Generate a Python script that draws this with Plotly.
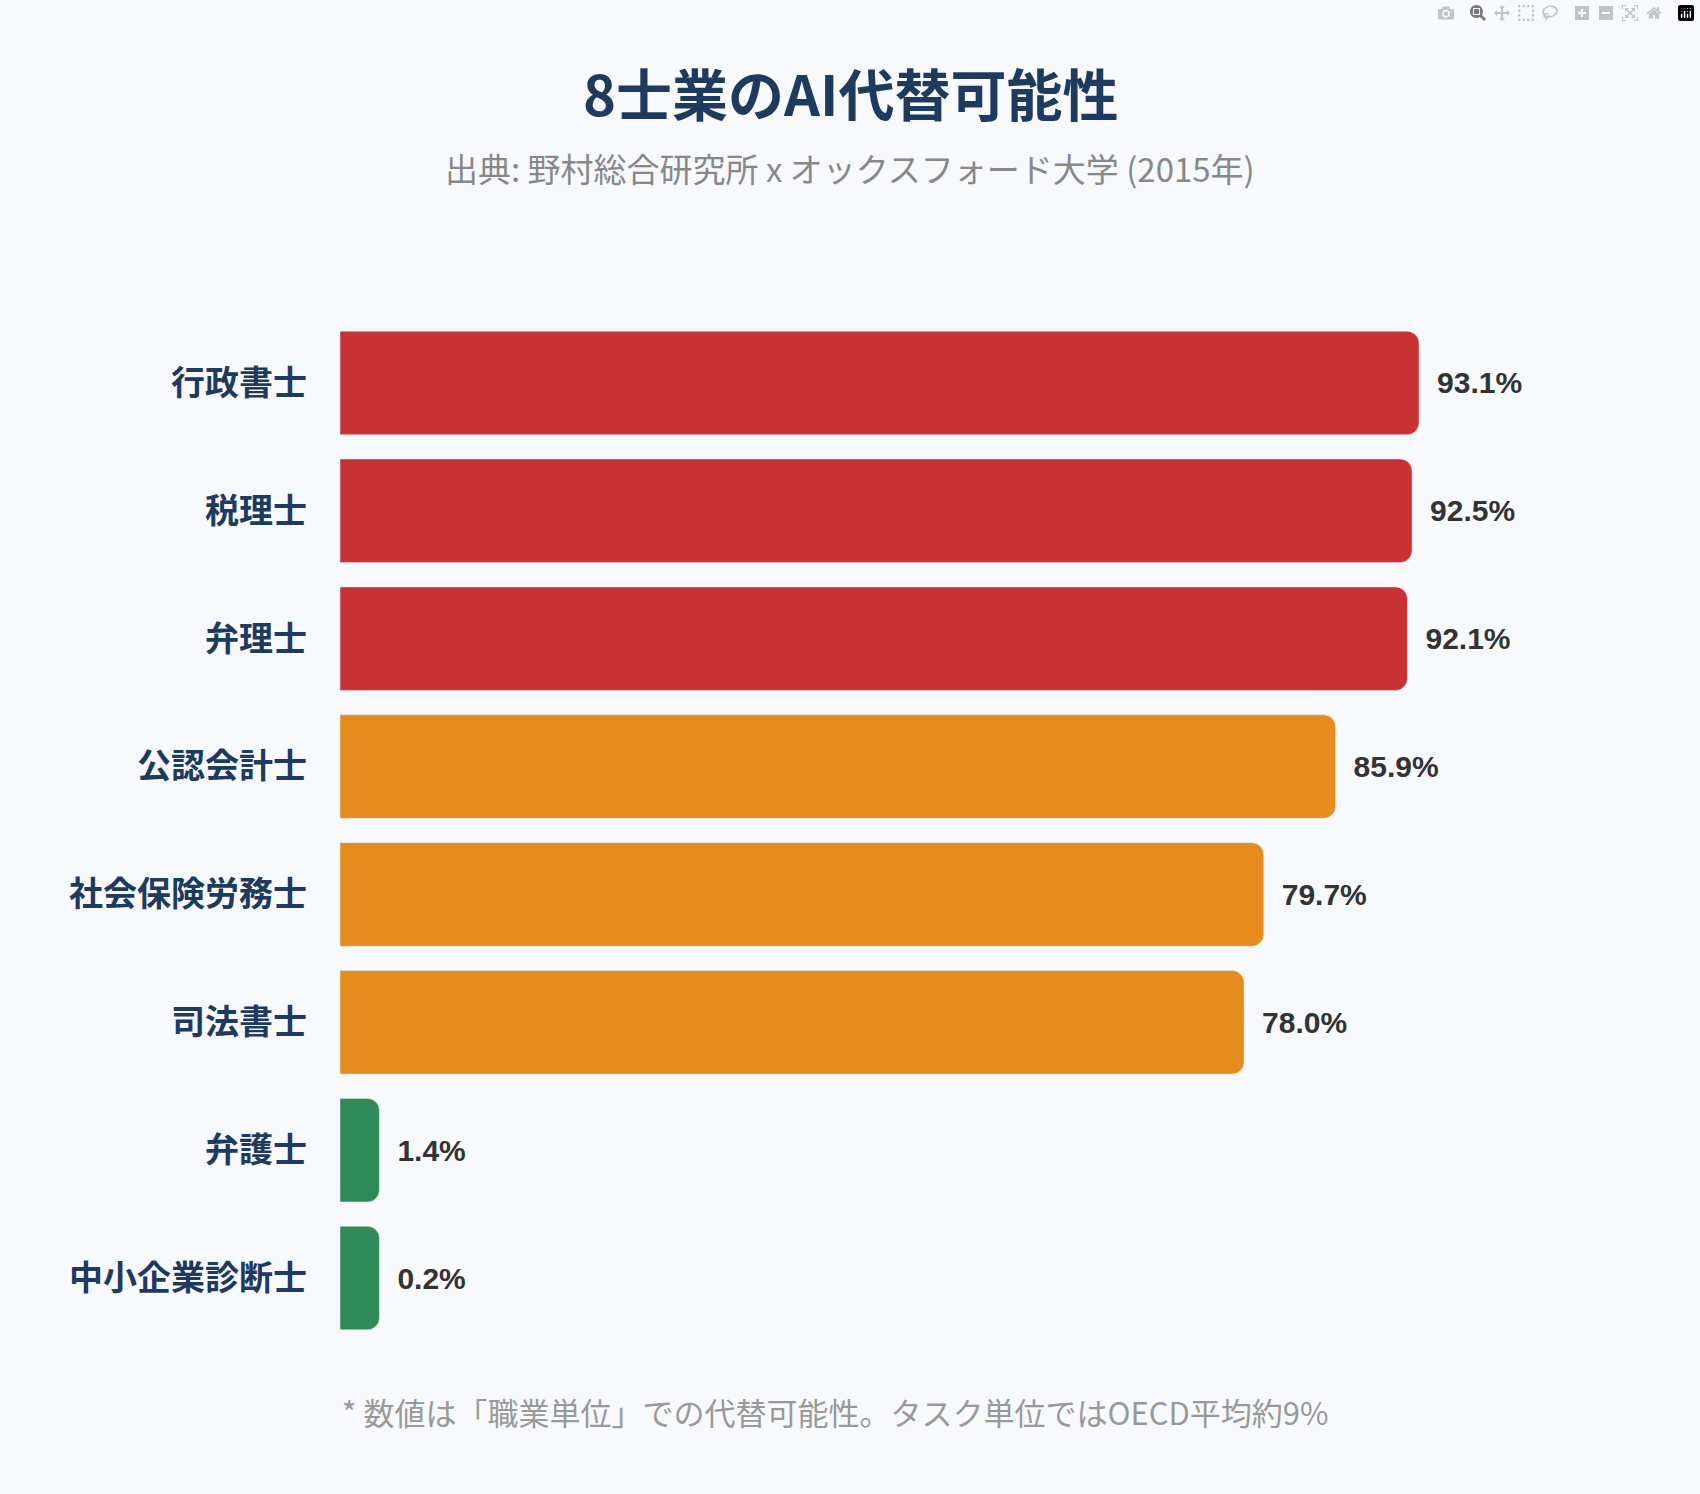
import plotly.graph_objects as go

jobs = ["行政書士", "税理士", "弁理士", "公認会計士", "社会保険労務士", "司法書士", "弁護士", "中小企業診断士"]
rates = [93.1, 92.5, 92.1, 85.9, 79.7, 78.0, 1.4, 0.2]
colors = ["#c93234", "#c93234", "#c93234", "#e58b1f", "#e58b1f", "#e58b1f", "#2e8b57", "#2e8b57"]

FONT = "Noto Sans CJK JP"
# small bars keep a minimum visible width, like the original
shown = [max(v, 3.4) for v in rates]

fig = go.Figure(go.Bar(
    y=jobs, x=shown, orientation="h",
    marker=dict(color=colors, cornerradius=12),
    text=[f"\u2002{v:.1f}%" for v in rates], textposition="outside",
    textfont=dict(family="Liberation Sans, Roboto", size=30, color="#333333", weight="bold"),
    cliponaxis=False, hoverinfo="skip",
))

fig.update_layout(
    width=1700, height=1494,
    paper_bgcolor="#f7f9fc", plot_bgcolor="#f7f9fc",
    margin=dict(l=340, r=201, t=319, b=152),
    bargap=0.19, showlegend=False,
    xaxis=dict(range=[0, 100], visible=False, fixedrange=True),
    yaxis=dict(autorange="reversed", showgrid=False, zeroline=False, showline=False,
               ticks="", ticklabelstandoff=32,
               tickfont=dict(family=FONT, size=34, color="#1e3a5f", weight="bold")),
    annotations=[
        dict(text="<b>8士業のAI代替可能性</b>", x=850, y=92, xref="paper", yref="paper",
             showarrow=False, font=dict(family=FONT, size=56, color="#1e3a5f")),
        dict(text="出典: 野村総合研究所 x オックスフォード大学 (2015年)", x=850, y=168,
             xref="paper", yref="paper", showarrow=False,
             font=dict(family=FONT, size=33, color="#888888")),
        dict(text="* 数値は「職業単位」での代替可能性。タスク単位ではOECD平均約9%", x=340, y=1411,
             xref="paper", yref="paper", showarrow=False, xanchor="left",
             font=dict(family=FONT, size=31, color="#999999")),
    ],
)
# convert pixel positions of annotations to paper coords
pw, ph = 1700 - 340 - 201, 1494 - 319 - 152
for a in fig.layout.annotations:
    a.y = (1494 - 152 - a.y) / ph
    a.yanchor = "middle"
    a.x = (a.x - 340) / pw

fig.write_html("out.html", post_script="document.body.style.margin='0';")
